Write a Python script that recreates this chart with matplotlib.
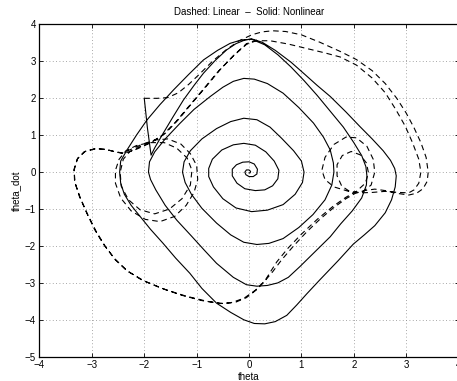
import matplotlib
matplotlib.use("Agg")
import matplotlib.pyplot as plt

plt.rcParams['font.family'] = ['Liberation Sans', 'DejaVu Sans']
plt.rcParams['font.size'] = 7

# Nonlinear response (solid)
nl_theta = [
    -2.00, -1.94, -1.87, -1.80, -1.64, -1.45, -1.25, -1.05, -0.87, -0.65, -0.43, -0.25, -0.08, 0.05,
    0.25, 0.50, 0.80, 1.04, 1.30, 1.55, 1.85, 2.12, 2.35, 2.56, 2.70, 2.78, 2.81, 2.79, 2.72, 2.60,
    2.40, 2.20, 1.99, 1.70, 1.35, 1.10, 0.91, 0.72, 0.50, 0.30, 0.10, -0.10, -0.35, -0.62, -0.90,
    -1.13, -1.40, -1.64, -1.88, -2.08, -2.25, -2.38, -2.45, -2.47, -2.45, -2.33, -2.15, -1.95, -1.70,
    -1.44, -1.15, -0.87, -0.60, -0.36, -0.15, 0.05,
    0.30, 0.55, 0.80, 1.05, 1.30, 1.55, 1.80, 2.00, 2.15, 2.23, 2.25, 2.24, 2.15, 1.97, 1.75, 1.55,
    1.25, 0.97, 0.75, 0.55, 0.35, 0.15, -0.05, -0.30, -0.62, -0.85, -1.10, -1.38, -1.60, -1.78, -1.88,
    -1.92, -1.90, -1.80, -1.60, -1.32, -1.05, -0.74, -0.50, -0.30, -0.10,
    0.10, 0.35, 0.65, 0.95, 1.23, 1.42, 1.55, 1.61, 1.62, 1.58, 1.45, 1.22, 0.95, 0.65, 0.38, 0.15,
    -0.10, -0.35, -0.62, -0.90, -1.10, -1.22, -1.27, -1.24, -1.12, -0.90, -0.62, -0.35, -0.10,
    0.15, 0.40, 0.62, 0.85, 1.00, 1.05, 1.02, 0.88, 0.65, 0.35, 0.05, -0.25, -0.50, -0.68, -0.77,
    -0.77, -0.70, -0.52, -0.30, -0.10, 0.12, 0.32, 0.48, 0.57, 0.55, 0.45, 0.30, 0.12, -0.08, -0.23,
    -0.32, -0.32, -0.24, -0.12, 0.00, 0.10, 0.16, 0.15, 0.08, 0.00, -0.06, -0.08, -0.05, 0.00, 0.03,
    0.02, 0.00,
]
nl_theta_dot = [
    2.00, 1.20, 0.46, 0.66, 1.05, 1.50, 1.96, 2.35, 2.68, 3.02, 3.31, 3.48, 3.58, 3.61,
    3.52, 3.30, 2.98, 2.68, 2.35, 2.05, 1.63, 1.23, 0.90, 0.58, 0.32, 0.10, -0.10, -0.40, -0.75, -1.10,
    -1.45, -1.70, -1.95, -2.40, -2.92, -3.30, -3.60, -3.88, -4.05, -4.11, -4.10, -4.00, -3.80, -3.55, -3.15,
    -2.74, -2.33, -1.93, -1.55, -1.20, -0.90, -0.60, -0.30, 0.00, 0.30, 0.60, 1.00, 1.41, 1.83,
    2.23, 2.65, 3.04, 3.30, 3.49, 3.58, 3.60,
    3.45, 3.18, 2.85, 2.48, 2.08, 1.65, 1.22, 0.80, 0.45, 0.15, -0.10, -0.35, -0.70, -1.05, -1.40, -1.75,
    -2.17, -2.56, -2.85, -3.00, -3.07, -3.09, -3.05, -2.85, -2.47, -2.12, -1.73, -1.30, -0.90, -0.48, -0.20,
    0.00, 0.28, 0.55, 0.90, 1.32, 1.70, 2.05, 2.30, 2.46, 2.54,
    2.52, 2.40, 2.14, 1.75, 1.33, 0.95, 0.60, 0.25, 0.00, -0.35, -0.75, -1.15, -1.50, -1.80, -1.93, -1.96,
    -1.90, -1.70, -1.38, -0.98, -0.60, -0.28, 0.00, 0.28, 0.58, 0.90, 1.18, 1.37, 1.46,
    1.42, 1.22, 0.92, 0.58, 0.30, 0.00, -0.28, -0.60, -0.88, -1.03, -1.07, -0.97, -0.72, -0.40, -0.12,
    0.10, 0.35, 0.60, 0.74, 0.78, 0.73, 0.55, 0.30, 0.05, -0.18, -0.37, -0.48, -0.50, -0.45, -0.30,
    -0.10, 0.08, 0.20, 0.27, 0.28, 0.22, 0.08, -0.05, -0.12, -0.12, -0.07, 0.00, 0.06, 0.06, 0.02,
    -0.02, -0.02,
]

# Linear response (dashed)
lin_theta = [
    -2.00, -1.75, -1.55, -1.35, -1.15, -0.95, -0.70, -0.45, -0.20, 0.05, 0.25, 0.45, 0.70, 1.00, 1.35,
    1.74, 2.05, 2.35, 2.60, 2.82, 3.00, 3.15, 3.28, 3.38, 3.42, 3.40, 3.32, 3.20, 3.05, 2.85, 2.60,
    2.40, 2.20, 2.02, 1.85, 1.60, 1.35, 1.10, 0.85, 0.62, 0.45, 0.30, 0.15, -0.05, -0.25, -0.50,
    -0.80, -1.20, -1.60, -2.00, -2.30, -2.55, -2.75, -2.92, -3.08, -3.22, -3.32, -3.34, -3.28, -3.15,
    -2.95, -2.75, -2.58, -2.42,
    -2.25, -2.05, -1.80, -1.55, -1.30, -1.12, -1.00, -0.98, -1.05, -1.20, -1.42, -1.70, -1.98, -2.25,
    -2.45, -2.55, -2.55, -2.48, -2.35, -2.15, -1.90, -1.62, -1.38, -1.18, -1.09, -1.12, -1.28, -1.52,
    -1.80, -2.08, -2.30, -2.44, -2.46, -2.40, -2.28,
    -2.10, -1.85, -1.60, -1.35, -1.10, -0.82, -0.55, -0.28, -0.05, 0.15, 0.40, 0.75, 1.10, 1.45, 1.74,
    2.05, 2.35, 2.60, 2.80, 2.98, 3.12, 3.24, 3.28, 3.24, 3.15, 3.05, 2.85, 2.60, 2.35, 2.15,
    1.90, 1.62, 1.45, 1.39, 1.45, 1.62, 1.85, 2.05, 2.25, 2.37, 2.40, 2.33, 2.15, 1.95, 1.77, 1.68,
    1.68, 1.78, 1.95, 2.12, 2.24, 2.28, 2.22, 2.05, 1.85, 1.60, 1.30, 1.00, 0.75, 0.53, 0.40, 0.30,
    0.12, -0.10, -0.35, -0.55, -0.90, -1.30, -1.70, -2.05, -2.35, -2.58, -2.78, -2.95, -3.10, -3.24,
    -3.33, -3.34, -3.27, -3.12, -2.92, -2.72, -2.55, -2.40, -2.15, -1.90, -1.65, -1.40, -1.15, -0.85,
    -0.58, -0.30, -0.05, 0.15,
]
lin_theta_dot = [
    2.00, 2.00, 2.02, 2.15, 2.38, 2.65, 3.00, 3.30, 3.55, 3.72, 3.80, 3.83, 3.81, 3.72, 3.52,
    3.27, 3.05, 2.75, 2.40, 2.00, 1.60, 1.20, 0.80, 0.40, 0.00, -0.25, -0.45, -0.57, -0.62, -0.58, -0.50,
    -0.46, -0.50, -0.58, -0.72, -0.98, -1.28, -1.62, -2.00, -2.38, -2.70, -2.95, -3.18, -3.40, -3.52, -3.56,
    -3.50, -3.36, -3.18, -2.95, -2.70, -2.38, -2.00, -1.60, -1.15, -0.70, -0.30, 0.05, 0.35, 0.55,
    0.63, 0.62, 0.56, 0.52,
    0.62, 0.75, 0.87, 0.90, 0.76, 0.50, 0.18, -0.20, -0.55, -0.90, -1.20, -1.34, -1.28, -1.05,
    -0.70, -0.30, 0.05, 0.35, 0.58, 0.72, 0.80, 0.80, 0.65, 0.38, 0.05, -0.35, -0.72, -1.00,
    -1.13, -1.02, -0.75, -0.38, 0.00, 0.35, 0.55,
    0.68, 0.82, 1.05, 1.42, 1.85, 2.32, 2.78, 3.18, 3.48, 3.56, 3.56, 3.47, 3.35, 3.23, 3.12,
    2.90, 2.55, 2.15, 1.70, 1.25, 0.80, 0.35, 0.00, -0.30, -0.48, -0.56, -0.55, -0.52, -0.55, -0.56,
    -0.52, -0.40, -0.20, 0.05, 0.40, 0.75, 0.95, 0.93, 0.70, 0.35, 0.00, -0.35, -0.55, -0.55, -0.38, -0.10,
    0.20, 0.45, 0.56, 0.47, 0.25, -0.02, -0.30, -0.52, -0.68, -0.93, -1.28, -1.68, -2.05, -2.43, -2.72, -2.95,
    -3.20, -3.42, -3.54, -3.56, -3.48, -3.33, -3.13, -2.92, -2.65, -2.32, -1.95, -1.55, -1.10, -0.65,
    -0.25, 0.08, 0.38, 0.57, 0.64, 0.61, 0.55, 0.50, 0.62, 0.78, 1.00, 1.36, 1.78, 2.28,
    2.74, 3.15, 3.46, 3.58,
]

x_ticks = [-4, -3, -2, -1, 0, 1, 2, 3, 4]
y_ticks = [-5, -4, -3, -2, -1, 0, 1, 2, 3, 4]

fig = plt.figure(figsize=(4.57, 3.81), dpi=100)
ax = fig.add_axes([0.0864, 0.0638, 0.9171, 0.8719])

ax.plot(lin_theta, lin_theta_dot, color='black', linewidth=0.8, dashes=(5, 3.5))
ax.plot(nl_theta, nl_theta_dot, color='black', linewidth=0.8)

ax.set_xlim(-4, 4)
ax.set_ylim(-5, 4)
ax.set_xticks(x_ticks)
ax.set_yticks(y_ticks)
ax.grid(True, color='0.55', linestyle=(0, (1, 3)), linewidth=0.6)
ax.tick_params(direction='in', length=3, width=0.6, top=True, right=True, pad=2.5, labelsize=7)
for s in ax.spines.values():
    s.set_linewidth(0.9)

ax.set_title("Dashed: Linear  \u2013  Solid: Nonlinear", fontsize=7, pad=7)
ax.set_xlabel("theta", fontsize=7, labelpad=1)
ax.set_ylabel("theta_dot", fontsize=7, labelpad=3)

fig.savefig("out.png", dpi=100)
